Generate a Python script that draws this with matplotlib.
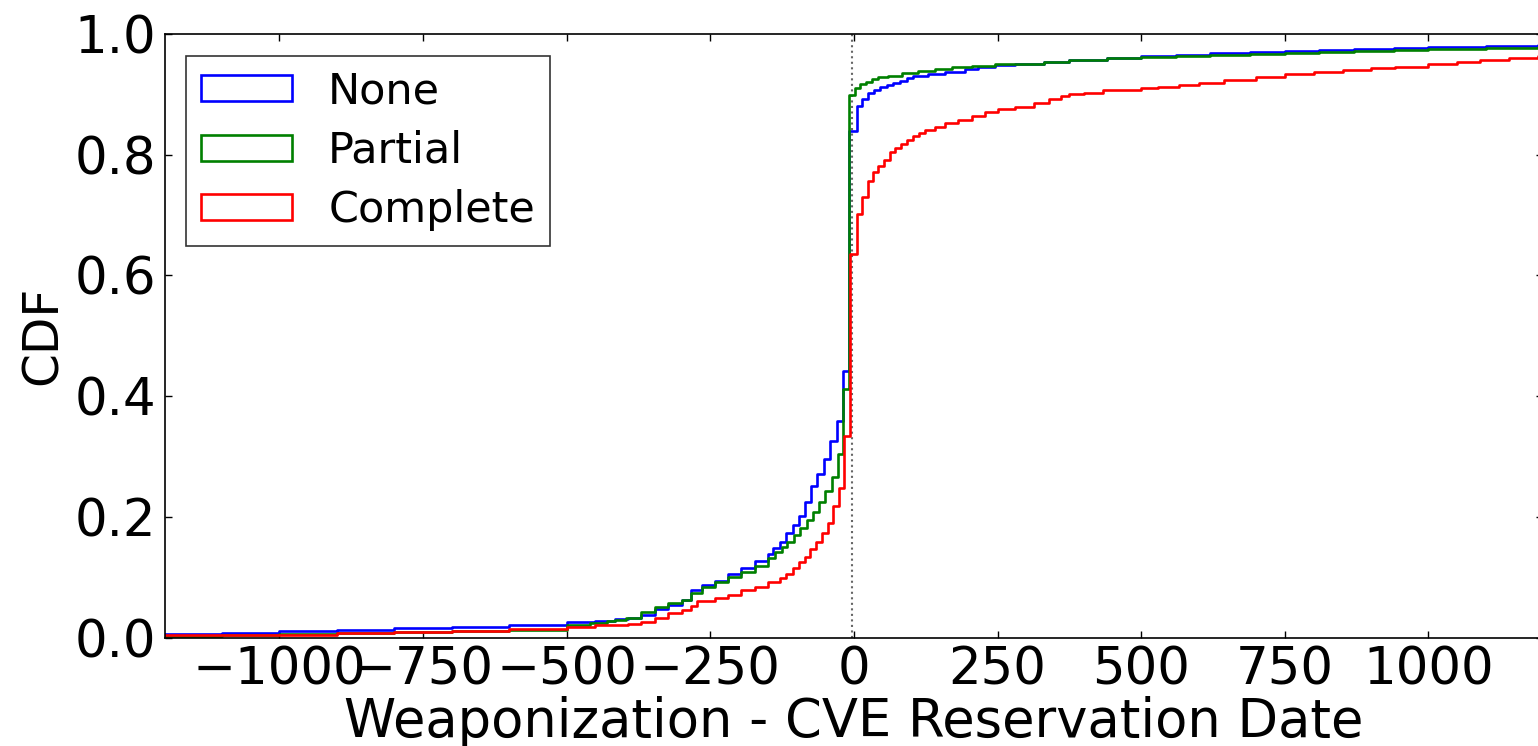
import matplotlib
matplotlib.use("Agg")
import matplotlib.pyplot as plt
from matplotlib.patches import Patch

plt.rcParams['font.family'] = ['DejaVu Sans']

# ---- data (left edge of each step, CDF level on that step) ----
none_x = [-1250, -1100, -1000, -900, -800, -700, -600, -500, -450, -416, -393, -370,
          -346, -323, -300, -283, -265, -242, -219, -196, -172, -149, -141, -128.8,
          -118.4, -106.7, -96.3, -84.8, -74.3, -63.9, -52.2, -41.8, -30.1, -18.6, -9.2,
          4.7, 14.5, 24.9, 35.4, 45.3, 56.9, 68.4, 80, 91.7, 103, 129, 158, 193, 216,
          246, 280, 330, 374, 440, 500, 560, 620, 690, 750, 810, 870, 940, 1000, 1100, 1191, 1250]
none_cdf = [0.006, 0.008, 0.011, 0.013, 0.015, 0.018, 0.021, 0.025, 0.028, 0.031, 0.033, 0.038,
            0.047, 0.054, 0.062, 0.078, 0.087, 0.094, 0.105, 0.115, 0.126, 0.139, 0.148, 0.159,
            0.173, 0.186, 0.201, 0.224, 0.251, 0.271, 0.296, 0.326, 0.359, 0.442, 0.839,
            0.880, 0.892, 0.902, 0.907, 0.912, 0.9155, 0.919, 0.9226, 0.9266, 0.930, 0.934, 0.9376, 0.942, 0.946,
            0.9487, 0.950, 0.954, 0.957, 0.961, 0.964, 0.966, 0.968, 0.970, 0.9725, 0.974, 0.975, 0.977,
            0.978, 0.980, 0.981, 0.982]

partial_x = [-1250, -1100, -1000, -900, -800, -700, -600, -500, -460, -430, -416, -396, -370,
             -346, -323, -300, -283, -265, -242, -219, -196, -172, -149, -137.5, -125.9,
             -116.1, -104.5, -94.0, -82.3, -71.9, -60.9, -50.0, -38.8, -28.4, -18.6, -9.2,
             1.7, 10.4, 20.3, 30.8, 42.3, 59.7, 83, 112, 141, 170, 205, 246, 280, 330, 374,
             440, 500, 560, 620, 690, 750, 810, 870, 940, 1000, 1100, 1191, 1250]
partial_cdf = [0.003, 0.005, 0.006, 0.007, 0.009, 0.011, 0.013, 0.021, 0.024, 0.028, 0.029, 0.033, 0.043,
               0.050, 0.058, 0.063, 0.074, 0.084, 0.092, 0.101, 0.109, 0.118, 0.131, 0.142, 0.1505,
               0.1588, 0.170, 0.181, 0.1947, 0.2075, 0.225, 0.2428, 0.2665, 0.3035, 0.412, 0.899,
               0.910, 0.917, 0.921, 0.925, 0.928, 0.931, 0.935, 0.9387, 0.942, 0.945, 0.9475, 0.950, 0.951, 0.954, 0.957,
               0.960, 0.962, 0.964, 0.966, 0.9675, 0.969, 0.9705, 0.972, 0.9735, 0.975, 0.977, 0.979, 0.980]

complete_x = [-1250, -1100, -1000, -900, -800, -700, -600, -500, -450, -416, -393, -370,
              -346, -323, -300, -284, -274, -242, -219, -196, -172, -149, -128.8, -118, -106,
              -95, -85.3, -76.6, -66.2, -55.2, -44.7, -36, -25.6, -16.9, -7,
              4.7, 13.4, 23.9, 33.7, 42.3, 52.8, 62.7, 71.4, 81.8, 91.7, 103, 113, 123.6,
              141, 158, 181, 205, 228, 251, 280, 314, 340, 360, 374, 400, 434, 500, 530, 565,
              600, 644, 700, 750, 800, 852, 900, 941, 1000, 1050, 1090, 1140, 1191, 1250]
complete_cdf = [0.004, 0.005, 0.005, 0.007, 0.009, 0.011, 0.014, 0.018, 0.020, 0.021, 0.023, 0.026,
                0.033, 0.040, 0.046, 0.052, 0.060, 0.065, 0.070, 0.078, 0.084, 0.092, 0.099, 0.106, 0.116,
                0.125, 0.134, 0.146, 0.159, 0.174, 0.189, 0.218, 0.247, 0.334, 0.6355,
                0.7017, 0.730, 0.757, 0.772, 0.781, 0.792, 0.805, 0.8106, 0.8177, 0.824, 0.831, 0.8365, 0.841,
                0.8464, 0.852, 0.8575, 0.864, 0.871, 0.875, 0.879, 0.885, 0.893, 0.898, 0.900, 0.903, 0.907,
                0.911, 0.913, 0.916, 0.919, 0.924, 0.929, 0.934, 0.937, 0.941, 0.944, 0.946, 0.951, 0.954,
                0.957, 0.960, 0.964, 0.965]

labels = ['None', 'Partial', 'Complete']
colors = ['#0000ff', '#008000', '#ff0000']
xticks = [-1000, -750, -500, -250, 0, 250, 500, 750, 1000]
yticks = [0.0, 0.2, 0.4, 0.6, 0.8, 1.0]
ref_x = -4

fig = plt.figure(figsize=(15.38, 7.46), dpi=100)
ax = fig.add_axes([0.107, 0.1454, 0.8965, 0.809])

series = [(none_x, none_cdf), (partial_x, partial_cdf), (complete_x, complete_cdf)]
for (xs, ys), c in zip(series, colors):
    ax.step(xs, ys, where='post', color=c, lw=1.9)

ax.axvline(ref_x, color='0.4', ls=':', lw=1.5, zorder=0)

ax.set_xlim(-1200, 1200)
ax.set_ylim(0, 1.0)
ax.set_xticks(xticks)
ax.set_yticks(yticks)
ax.set_yticklabels(['%.1f' % t for t in yticks])
ax.tick_params(axis='both', which='major', direction='in', length=5, width=1,
               labelsize=37, top=True, right=True, pad=6)
for s in ax.spines.values():
    s.set_linewidth(1.2)

ax.set_xlabel('Weaponization - CVE Reservation Date', fontsize=38, labelpad=0)
ax.set_ylabel('CDF', fontsize=35, labelpad=6)

handles = [Patch(facecolor='none', edgecolor=c, lw=1.9) for c in colors]
leg = ax.legend(handles, labels, loc='upper left', fontsize=31, frameon=True,
                fancybox=False, borderaxespad=0.5, handlelength=2.1, handleheight=0.55,
                handletextpad=0.85, labelspacing=0.4, borderpad=0.35)
leg.get_frame().set_edgecolor('black')
leg.get_frame().set_linewidth(1.2)

fig.savefig('out.png', dpi=100, facecolor='white')
